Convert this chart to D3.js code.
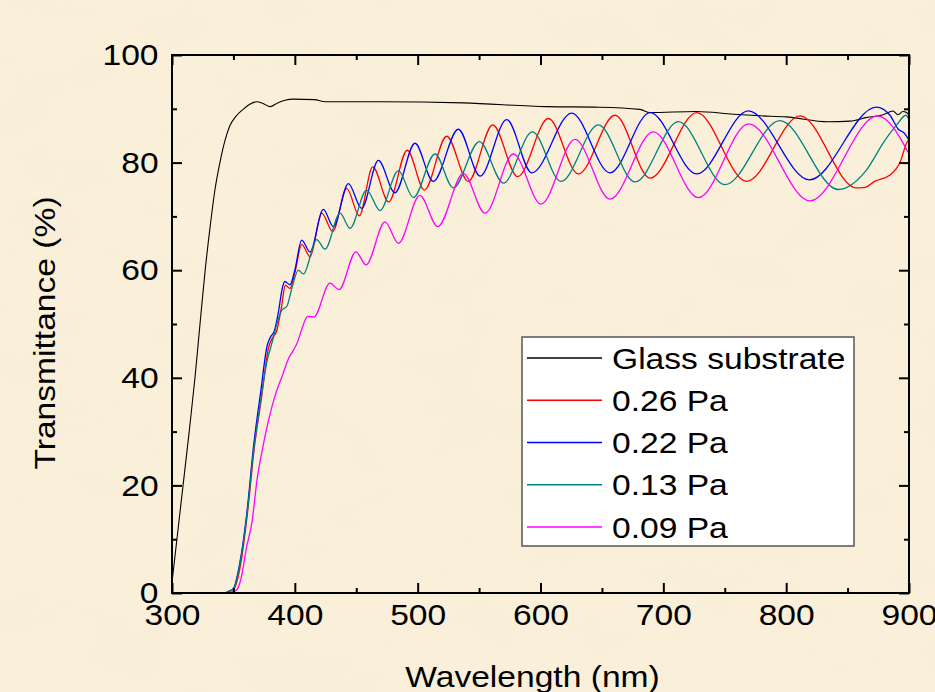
<!DOCTYPE html>
<html>
<head>
<meta charset="utf-8"/>
<script src="https://cdnjs.cloudflare.com/ajax/libs/d3/7.8.5/d3.min.js"></script>
<style>
body { margin: 0; background: #f8ecd3; overflow: hidden; }
text { font-family: "Liberation Sans", Arial, sans-serif; fill: #000; }
</style>
</head>
<body>
<script>
const W = 935, H = 692;
const m = { l: 172, r: 909, t: 55, b: 593 };
const stretch = 1.12;   // text in the picture is a bit wider than Arial

// [wavelength nm, transmittance %]
const glass = [[300,2],[304,10],[309,20],[314,30],[318.7,40],[322.8,50],[327,60],[331,68],[335,75],[339,80],
  [343,84],[347,86.8],[352,88.6],[358,89.9],[363,90.8],[369,91.3],[374,91],[380,90.4],[386,91.1],[392,91.6],[398.5,91.8],
  [416,91.7],[425,91.3],[469,91.3],[537,91.1],[605,90.4],[648,90.3],[681,89.9],[689,89.3],[727,89.5],[757,89.0],[779,88.7],
  [800,88.5],[834,87.6],[852,87.7],[866,88.4],[879,88.9],[887,89.6],[891,88.9],[895,89.5],[898,89.3],[900,88.8]];

const pa026 = [[300,0],[343,0],[347,0.3],[351,1],[356,5.5],[361.5,15],[367,27],[373,36.5],[378.5,45.5],[382,47.5],[385,48.5],
  [389,53],[392.3,57.2],[396,56.6],[400,59.5],[405.6,64.8],[412.4,62.5],[421.9,70.6],[430.8,67.2],[442.2,75.2],[452.5,70.1],
  [463.4,79.2],[476.4,72.7],[491.5,82.3],[505.5,74.9],[523.6,84.9],[541.2,76.5],[561.1,87],[581.4,77.4],[606.4,88.2],
  [630.8,77.9],[660.7,88.8],[689.2,77.1],[727.2,89.3],[767.8,76.5],[811.3,88.7],[857,75.3],[864,75.4],[872,76.5],
  [884.5,77.7],[893,80.2],[898,83.6],[900,84.3]];

const pa022 = [[300,0],[342,0],[346,0.3],[350,0.8],[355,5.3],[361,15],[366.5,27.5],[372,37],[377.5,46],[380.5,47.7],[383,48.5],
  [386.5,52],[389.5,56.3],[391.8,57.9],[396,57.3],[400,60],[405.6,65.6],[412.4,63.4],[423.2,71.3],[431.4,68.1],[443.6,76.1],
  [454.4,71.5],[468,80.4],[481.5,74.4],[497.8,83.6],[512.7,76.5],[533.1,86.2],[550.8,77.5],[572.5,88],[592.9,78.1],
  [625.4,89.2],[656.6,78.1],[689.2,89.3],[727.2,77.9],[769.2,89.6],[819,76.8],[873.5,90.3],[884.5,88.8],[891.3,86.2],
  [896,85.5],[900,84.2]];

const pa013 = [[300,0],[342,0],[346,0.3],[350,0.8],[355,5],[361,14.5],[366.5,26.5],[372,35.5],[377,42.7],[382,47],[386,50.5],
  [389.5,52.6],[393.5,53.3],[398,57],[402.9,60],[407,59.3],[417.8,65.7],[424.6,63.9],[436.8,70.6],[444.9,67.8],[458.5,74.9],
  [469.3,71.1],[484.3,78.5],[496.5,73.5],[514.1,81.6],[529,75.3],[550.2,83.9],[569.8,76.2],[593.4,85.7],[616.7,76.5],
  [647.1,87],[677,76.4],[712.3,87.6],[750.2,75.9],[794.9,87.8],[842.5,75],[865,78.5],[880,84],[890,87],[897.5,88.8],[900,88]];

const pa009 = [[300,0],[345,0],[349,0.2],[352.7,0.6],[356,2.5],[360.8,8.6],[365,13],[369.5,21.5],[373,26],[377.5,31],
  [385.5,37.8],[390,40.5],[394.7,43.5],[399,45.2],[402,46.5],[405.6,49],[410.5,51.4],[415.5,51.3],[428.6,57.6],[436,56.4],
  [449.7,63.4],[458,61],[473.4,69],[484.3,65],[501.7,73.9],[516.4,68.1],[537.2,78],[554.8,70.6],[577.9,81.6],[600.4,72.3],
  [628.1,84.3],[656.6,73.2],[691.8,85.7],[728.5,73.5],[769.5,87.2],[819.4,72.9],[874.5,88.7],[886.7,86.7],[893,84.5],[900,81.6]];

const seriesNames = ["Glass substrate", "0.26 Pa", "0.22 Pa", "0.13 Pa", "0.09 Pa"];
const seriesData = [glass, pa026, pa022, pa013, pa009];
const seriesColors = ["#000000", "#ff0000", "#0000ff", "#008080", "#ff00ff"];

const xTicks = [300, 400, 500, 600, 700, 800, 900];
const xMinor = [350, 450, 550, 650, 750, 850];
const yTicks = [0, 20, 40, 60, 80, 100];
const yMinor = [10, 30, 50, 70, 90];

const svg = d3.select('body').append('svg')
  .attr('width', W)
  .attr('height', H);

// parchment background
const defs = svg.append('defs');
const f = defs.append('filter').attr('id', 'paper')
  .attr('x', 0).attr('y', 0).attr('width', '100%').attr('height', '100%');
f.append('feTurbulence').attr('type', 'fractalNoise')
  .attr('baseFrequency', '0.012 0.02').attr('numOctaves', 4).attr('seed', 7);
f.append('feColorMatrix').attr('type', 'matrix')
  .attr('values', '0 0 0 0 0.93  0 0 0 0 0.85  0 0 0 0 0.70  1.1 0 0 0 -0.45');
defs.append('clipPath').attr('id', 'plotclip')
  .append('rect').attr('x', m.l).attr('y', m.t).attr('width', m.r - m.l).attr('height', m.b - m.t);

svg.append('rect').attr('width', W).attr('height', H).attr('fill', '#faf0d9');
svg.append('rect').attr('width', W).attr('height', H).attr('filter', 'url(#paper)');

const x = d3.scaleLinear().domain([300, 900]).range([m.l, m.r]);
const y = d3.scaleLinear().domain([0, 100]).range([m.b, m.t]);

// curves
const line = d3.line()
  .x(d => x(d[0]))
  .y(d => y(d[1]))
  .curve(d3.curveMonotoneX);

svg.append('g').attr('clip-path', 'url(#plotclip)')
  .selectAll('path')
  .data(seriesData)
  .join('path')
  .attr('d', line)
  .attr('fill', 'none')
  .attr('stroke', (d, i) => seriesColors[i])
  .attr('stroke-width', (d, i) => i === 0 ? 1.1 : 1.3);

// axes, ticks pointing inward on all four sides
function styleAxis(g) {
  g.select('.domain').remove();
  g.selectAll('line').attr('stroke', '#000').attr('stroke-width', 2);
}
svg.append('g').attr('transform', `translate(0,${m.b})`)
  .call(d3.axisBottom(x).tickValues(xTicks).tickSizeInner(-10).tickSizeOuter(0).tickPadding(11))
  .call(styleAxis)
  .call(g => g.selectAll('text')
    .attr('font-size', 30)
    .attr('font-family', '"Liberation Sans", Arial, sans-serif')
    .attr('transform', `scale(${stretch},1)`));
svg.append('g').attr('transform', `translate(0,${m.b})`)
  .call(d3.axisBottom(x).tickValues(xMinor).tickSizeInner(-5).tickSizeOuter(0).tickFormat(''))
  .call(styleAxis);
svg.append('g').attr('transform', `translate(0,${m.t})`)
  .call(d3.axisTop(x).tickValues(xTicks).tickSizeInner(-10).tickSizeOuter(0).tickFormat(''))
  .call(styleAxis);
svg.append('g').attr('transform', `translate(0,${m.t})`)
  .call(d3.axisTop(x).tickValues(xMinor).tickSizeInner(-5).tickSizeOuter(0).tickFormat(''))
  .call(styleAxis);

svg.append('g').attr('transform', `translate(${m.l},0)`)
  .call(d3.axisLeft(y).tickValues(yTicks).tickSizeInner(-10).tickSizeOuter(0).tickPadding(12))
  .call(styleAxis)
  .call(g => g.selectAll('text')
    .attr('font-size', 30)
    .attr('font-family', '"Liberation Sans", Arial, sans-serif')
    .attr('transform', `scale(${stretch},1)`));
svg.append('g').attr('transform', `translate(${m.l},0)`)
  .call(d3.axisLeft(y).tickValues(yMinor).tickSizeInner(-5).tickSizeOuter(0).tickFormat(''))
  .call(styleAxis);
svg.append('g').attr('transform', `translate(${m.r},0)`)
  .call(d3.axisRight(y).tickValues(yTicks).tickSizeInner(-10).tickSizeOuter(0).tickFormat(''))
  .call(styleAxis);
svg.append('g').attr('transform', `translate(${m.r},0)`)
  .call(d3.axisRight(y).tickValues(yMinor).tickSizeInner(-5).tickSizeOuter(0).tickFormat(''))
  .call(styleAxis);

// frame
svg.append('rect')
  .attr('x', m.l).attr('y', m.t)
  .attr('width', m.r - m.l).attr('height', m.b - m.t)
  .attr('fill', 'none').attr('stroke', '#000').attr('stroke-width', 2);

// axis titles
svg.append('text')
  .attr('transform', `translate(${(m.l + m.r) / 2 - 8},687) scale(${stretch},1)`)
  .attr('text-anchor', 'middle')
  .attr('font-size', 30)
  .text('Wavelength (nm)');
svg.append('text')
  .attr('transform', `translate(55,333) rotate(-90) scale(${stretch},1)`)
  .attr('text-anchor', 'middle')
  .attr('font-size', 30)
  .text('Transmittance (%)');

// legend
const leg = svg.append('g');
leg.append('rect')
  .attr('x', 522).attr('y', 337)
  .attr('width', 332).attr('height', 209)
  .attr('fill', '#fff').attr('stroke', '#555').attr('stroke-width', 1.5);
const rowY = d3.scalePoint().domain(seriesNames).range([358, 527]);
const rows = leg.selectAll('g.row')
  .data(seriesNames)
  .join('g')
  .attr('class', 'row')
  .attr('transform', d => `translate(0,${rowY(d)})`);
rows.append('line')
  .attr('x1', 527).attr('x2', 602)
  .attr('stroke', (d, i) => seriesColors[i])
  .attr('stroke-width', 1.3);
rows.append('text')
  .attr('transform', `translate(612,0) scale(${stretch},1)`)
  .attr('dy', '0.35em')
  .attr('font-size', 30)
  .text(d => d);
</script>
</body>
</html>
